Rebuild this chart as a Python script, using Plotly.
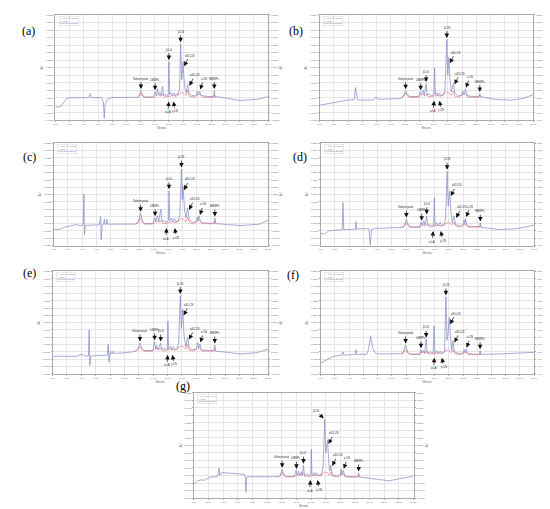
import plotly.graph_objects as go

# ---------------- data (minutes, AU) ----------------
a_blue = [(0.0,-0.0058),(0.4,-0.0064),(0.9,-0.0050),(1.5,-0.0008),(2.0,0.0000),(4.7,0.0001),(4.9,0.0028),(5.05,0.0001),
          (6.5,0.0001),(6.75,-0.0025),(6.87,-0.0136),(7.0,-0.0040),(7.3,-0.0012),(7.9,0.0002),(11.6,0.0003),
          (11.8,0.0012),(12.05,0.0048),(12.3,0.0015),(12.6,0.0005),(13.8,0.0006),(14.05,0.0040),(14.2,0.0015),
          (14.4,0.0060),(14.55,0.0020),(14.75,0.0035),(14.9,0.0015),(15.1,0.0075),(15.25,0.0015),(15.45,0.0025),
          (15.6,0.0010),(15.9,0.0020),(16.0,0.0240),(16.1,0.0020),(16.3,0.0035),(16.5,0.0015),(16.7,0.0032),
          (16.9,0.0012),(17.1,0.0025),(17.3,0.0020),(17.5,0.0060),(17.65,0.0358),(17.8,0.0120),(17.9,0.0160),
          (18.0,0.0240),(18.1,0.0150),(18.25,0.0060),(18.45,0.0035),(18.65,0.0088),(18.85,0.0030),(19.2,0.0015),
          (19.8,0.0012),(20.0,0.0045),(20.15,0.0020),(20.35,0.0042),(20.5,0.0015),(20.8,0.0012),(21.5,0.0008),
          (22.3,0.0008),(22.4,0.0048),(22.5,0.0008),(23.5,0.0002),(26.0,-0.0018),(28.5,-0.0010),(30.0,0.0008)]
b_blue = [(0.0,-0.0050),(1.9,-0.0031),(4.0,-0.0015),(4.85,-0.0012),(5.05,0.0068),(5.3,-0.0012),(5.6,-0.0016),
          (7.6,-0.0014),(7.9,0.0007),(8.2,-0.0010),(11.2,-0.0006),(11.6,0.0002),(11.85,0.0020),(12.08,0.0046),
          (12.35,0.0022),(12.7,0.0008),(13.9,0.0008),(14.15,0.0040),(14.3,0.0020),(14.5,0.0050),(14.7,0.0020),
          (14.96,0.0094),(15.1,0.0020),(15.4,0.0025),(15.7,0.0015),(16.05,0.0020),(16.15,0.0200),(16.25,0.0020),
          (16.45,0.0035),(16.6,0.0015),(16.85,0.0030),(17.0,0.0015),(17.3,0.0015),(17.6,0.0050),(17.87,0.0387),
          (18.0,0.0150),(18.15,0.0266),(18.3,0.0120),(18.5,0.0040),(18.8,0.0094),(19.0,0.0030),(19.4,0.0012),
          (19.9,0.0015),(20.1,0.0045),(20.25,0.0020),(20.5,0.0057),(20.7,0.0015),(21.2,0.0010),(22.35,0.0008),
          (22.5,0.0028),(22.65,0.0006),(24.4,-0.0009),(26.9,-0.0016),(28.5,-0.0005),(30.0,0.0020)]
c_blue = [(0.0,-0.0036),(0.7,-0.0041),(1.5,-0.0025),(2.5,-0.0012),(3.2,-0.0006),(3.8,-0.0014),(4.15,-0.0010),
          (4.25,0.0202),(4.32,-0.0075),(4.45,-0.0012),(6.4,-0.0008),(6.58,0.0048),(6.66,-0.0111),(6.8,-0.0006),
          (7.0,-0.0004),(7.1,0.0032),(7.2,-0.0004),(7.4,-0.0004),(7.45,0.0030),(7.55,-0.0004),(11.5,-0.0003),
          (11.8,0.0010),(12.17,0.0071),(12.45,0.0015),(12.8,0.0000),(13.9,0.0000),(14.15,0.0040),(14.3,0.0015),
          (14.5,0.0054),(14.7,0.0015),(15.0,0.0100),(15.15,0.0015),(15.5,0.0020),(15.8,0.0010),(16.05,0.0020),
          (16.14,0.0225),(16.25,0.0020),(16.5,0.0038),(16.65,0.0012),(16.9,0.0035),(17.1,0.0012),(17.4,0.0015),
          (17.65,0.0060),(17.88,0.0373),(18.0,0.0160),(18.1,0.0259),(18.3,0.0100),(18.5,0.0040),(18.75,0.0107),
          (18.95,0.0030),(19.4,0.0010),(19.9,0.0012),(20.1,0.0045),(20.2,0.0020),(20.35,0.0054),(20.55,0.0012),
          (21.0,0.0005),(22.4,0.0002),(22.55,0.0039),(22.7,0.0000),(26.2,-0.0013),(28.9,-0.0003),(30.0,0.0025)]
d_blue = [(0.0,-0.0071),(0.6,-0.0068),(1.2,-0.0048),(2.4,-0.0042),(3.05,-0.0042),(3.14,0.0144),(3.25,-0.0040),
          (4.9,-0.0038),(4.98,0.0013),(5.06,-0.0036),(6.8,-0.0034),(6.97,-0.0145),(7.15,-0.0040),(7.6,-0.0033),
          (11.4,-0.0026),(11.75,-0.0015),(12.05,0.0031),(12.35,-0.0010),(12.7,-0.0022),(13.9,-0.0022),(14.15,0.0010),
          (14.3,-0.0012),(14.5,0.0019),(14.65,-0.0010),(14.9,0.0053),(15.05,-0.0012),(15.3,-0.0005),(15.55,-0.0015),
          (15.88,-0.0010),(15.97,0.0177),(16.08,-0.0010),(16.35,0.0005),(16.5,-0.0015),(16.8,0.0008),(16.95,-0.0012),
          (17.3,-0.0012),(17.55,0.0030),(17.77,0.0358),(17.92,0.0120),(18.14,0.0223),(18.3,0.0080),(18.5,0.0005),
          (18.74,0.0053),(18.95,-0.0005),(19.5,-0.0015),(20.05,-0.0005),(20.15,0.0025),(20.25,0.0000),(20.35,0.0035),
          (20.55,-0.0015),(21.2,-0.0020),(22.33,-0.0020),(22.43,0.0004),(22.55,-0.0025),(25.0,-0.0040),(27.5,-0.0035),
          (30.0,-0.0010)]
e_blue = [(0.0,-0.0030),(3.4,-0.0030),(4.0,-0.0015),(4.5,-0.0028),(5.0,-0.0028),(5.1,0.0150),(5.18,-0.0093),
          (5.35,-0.0028),(6.0,-0.0025),(7.6,-0.0022),(7.75,0.0053),(7.85,-0.0071),(7.98,-0.0015),(8.07,0.0003),
          (8.15,-0.0012),(8.35,-0.0010),(8.4,0.0003),(8.5,-0.0010),(9.5,-0.0008),(11.3,0.0001),(11.8,0.0012),
          (12.17,0.0060),(12.45,0.0018),(12.8,0.0008),(13.95,0.0010),(14.2,0.0069),(14.35,0.0020),(14.5,0.0042),
          (14.7,0.0015),(15.05,0.0060),(15.2,0.0015),(15.5,0.0025),(15.9,0.0015),(15.98,0.0025),(16.05,0.0211),
          (16.15,0.0020),(16.45,0.0038),(16.6,0.0015),(16.85,0.0035),(17.0,0.0015),(17.3,0.0015),(17.55,0.0060),
          (17.78,0.0385),(17.93,0.0160),(18.1,0.0290),(18.3,0.0110),(18.55,0.0035),(18.8,0.0098),(19.0,0.0030),
          (19.5,0.0015),(20.0,0.0018),(20.2,0.0064),(20.32,0.0025),(20.5,0.0055),(20.7,0.0015),(21.2,0.0010),
          (22.45,0.0010),(22.57,0.0047),(22.7,0.0006),(26.2,-0.0014),(28.5,-0.0005),(30.0,0.0019)]
f_blue = [(0.0,-0.0076),(0.9,-0.0053),(1.8,-0.0030),(3.0,-0.0022),(3.13,0.0001),(3.25,-0.0021),(4.85,-0.0018),
          (4.96,0.0015),(5.07,-0.0017),(6.5,-0.0016),(6.75,0.0020),(7.03,0.0110),(7.3,0.0030),(7.7,-0.0010),
          (8.2,-0.0014),(11.2,-0.0012),(11.6,-0.0005),(11.94,0.0047),(12.25,-0.0005),(12.6,-0.0015),(13.9,-0.0015),
          (14.1,0.0015),(14.25,-0.0008),(14.45,0.0010),(14.6,-0.0010),(14.83,0.0087),(14.98,-0.0010),(15.3,0.0000),
          (15.8,-0.0010),(15.94,0.0177),(16.05,-0.0008),(16.35,0.0008),(16.5,-0.0012),(16.8,0.0005),(17.0,-0.0012),
          (17.4,0.0000),(17.6,0.0376),(17.75,0.0080),(17.9,0.0120),(18.06,0.0234),(18.25,0.0060),(18.4,0.0010),
          (18.6,0.0076),(18.8,0.0000),(19.5,-0.0012),(20.0,-0.0008),(20.15,0.0015),(20.3,-0.0005),(20.45,0.0019),
          (20.65,-0.0012),(21.5,-0.0016),(22.3,-0.0016),(22.4,0.0008),(22.5,-0.0017),(25.2,-0.0014),(28.0,-0.0010),
          (30.0,-0.0003)]
g_blue = [(0.0,-0.0056),(0.5,-0.0035),(1.0,-0.0029),(1.4,-0.0032),(2.0,-0.0014),(2.6,-0.0008),(3.1,-0.0010),
          (3.3,0.0010),(3.44,0.0049),(3.5,0.0000),(3.65,0.0005),(3.8,0.0021),(5.0,0.0015),(6.9,0.0007),
          (7.0,-0.0010),(7.1,-0.0112),(7.2,-0.0010),(7.4,-0.0008),(11.5,-0.0008),(11.8,0.0000),(12.05,0.0042),
          (12.3,0.0000),(12.6,-0.0006),(13.7,-0.0006),(13.95,0.0034),(14.1,0.0000),(14.3,0.0030),(14.45,0.0000),
          (14.7,0.0025),(14.8,0.0000),(14.96,0.0069),(15.1,-0.0002),(15.4,0.0010),(15.8,0.0000),(15.95,0.0010),
          (16.03,0.0174),(16.12,0.0000),(16.4,0.0020),(16.55,0.0000),(16.8,0.0018),(17.0,0.0000),(17.4,0.0000),
          (17.65,0.0060),(17.86,0.0372),(18.02,0.0150),(18.26,0.0237),(18.45,0.0060),(18.55,0.0030),(18.7,0.0069),
          (18.9,0.0005),(19.5,-0.0005),(20.0,0.0000),(20.1,0.0042),(20.22,0.0005),(20.4,0.0035),(20.6,-0.0003),
          (21.5,-0.0008),(22.4,-0.0008),(22.5,0.0017),(22.6,-0.0010),(26.65,-0.0035),(28.5,-0.0020),(30.0,-0.0004)]

a_red = [(11.5,0.0001),(11.85,0.0010),(12.05,0.0030),(12.3,0.0010),(12.6,0.0001),(13.9,0.0002),(14.2,0.0015),
         (14.5,0.0020),(14.8,0.0012),(15.1,0.0018),(15.4,0.0004),(16.2,0.0008),(16.6,0.0015),(17.0,0.0008),
         (17.5,0.0025),(17.8,0.0035),(18.1,0.0030),(18.4,0.0015),(18.65,0.0050),(18.9,0.0010),(19.6,0.0003),
         (20.1,0.0020),(20.4,0.0022),(20.8,0.0003),(22.3,0.0002),(22.45,0.0020),(22.6,0.0001)]
b_red = [(11.5,0.0002),(11.85,0.0012),(12.08,0.0030),(12.35,0.0012),(12.7,0.0003),(13.9,0.0004),(14.2,0.0018),
         (14.5,0.0022),(14.8,0.0012),(15.0,0.0025),(15.3,0.0006),(16.2,0.0010),(16.6,0.0016),(17.0,0.0010),
         (17.6,0.0028),(17.9,0.0038),(18.2,0.0032),(18.5,0.0016),(18.8,0.0045),(19.0,0.0010),(19.6,0.0004),
         (20.1,0.0022),(20.5,0.0026),(20.8,0.0004),(22.35,0.0003),(22.5,0.0018),(22.65,0.0002)]
c_red = [(11.5,-0.0004),(11.85,0.0008),(12.17,0.0035),(12.45,0.0008),(12.8,-0.0003),(13.9,-0.0002),(14.2,0.0014),
         (14.5,0.0018),(14.8,0.0010),(15.0,0.0022),(15.3,0.0002),(16.2,0.0006),(16.6,0.0014),(17.0,0.0006),
         (17.6,0.0024),(17.9,0.0034),(18.2,0.0028),(18.5,0.0012),(18.75,0.0045),(19.0,0.0006),(19.6,-0.0002),
         (20.1,0.0018),(20.4,0.0022),(20.8,0.0000),(22.4,-0.0001),(22.55,0.0020),(22.7,-0.0003)]
d_red = [(11.4,-0.0028),(11.75,-0.0018),(12.05,0.0005),(12.35,-0.0018),(12.7,-0.0026),(13.9,-0.0025),(14.2,-0.0012),
         (14.5,-0.0008),(14.8,-0.0014),(15.0,-0.0004),(15.3,-0.0022),(16.2,-0.0018),(16.6,-0.0012),(17.0,-0.0018),
         (17.55,0.0000),(17.85,0.0010),(18.15,0.0004),(18.45,-0.0012),(18.75,0.0008),(19.0,-0.0018),(19.6,-0.0024),
         (20.15,-0.0008),(20.4,-0.0004),(20.8,-0.0024),(22.33,-0.0024),(22.45,-0.0010),(22.6,-0.0027)]
e_red = [(11.4,0.0004),(11.8,0.0014),(12.17,0.0035),(12.45,0.0014),(12.8,0.0005),(13.95,0.0006),(14.2,0.0022),
         (14.5,0.0024),(14.8,0.0014),(15.05,0.0026),(15.3,0.0008),(16.2,0.0012),(16.6,0.0018),(17.0,0.0012),
         (17.55,0.0030),(17.85,0.0040),(18.15,0.0036),(18.5,0.0018),(18.8,0.0050),(19.0,0.0012),(19.6,0.0006),
         (20.2,0.0026),(20.5,0.0028),(20.8,0.0006),(22.45,0.0005),(22.57,0.0022),(22.7,0.0004)]
f_red = [(11.3,-0.0018),(11.65,-0.0008),(11.94,0.0015),(12.25,-0.0008),(12.6,-0.0018),(13.9,-0.0018),(14.1,-0.0004),
         (14.45,-0.0002),(14.7,-0.0008),(14.85,0.0006),(15.1,-0.0014),(16.1,-0.0012),(16.5,-0.0006),(16.9,-0.0012),
         (17.45,0.0004),(17.75,0.0014),(18.05,0.0008),(18.35,-0.0006),(18.6,0.0014),(18.85,-0.0012),(19.6,-0.0018),
         (20.15,-0.0004),(20.45,-0.0002),(20.75,-0.0018),(22.3,-0.0019),(22.4,-0.0006),(22.55,-0.0020)]
g_red = [(11.4,-0.0010),(11.8,0.0000),(12.05,0.0022),(12.3,0.0000),(12.6,-0.0009),(13.7,-0.0009),(14.0,0.0006),
         (14.3,0.0008),(14.6,0.0002),(14.96,0.0016),(15.2,-0.0006),(16.1,-0.0004),(16.5,0.0004),(16.9,-0.0004),
         (17.6,0.0014),(17.9,0.0024),(18.25,0.0018),(18.5,0.0002),(18.7,0.0025),(18.95,-0.0004),(19.6,-0.0009),
         (20.1,0.0010),(20.4,0.0012),(20.7,-0.0009),(22.4,-0.0010),(22.5,0.0004),(22.65,-0.0011)]

panel_names = ["(a)", "(b)", "(c)", "(d)", "(e)", "(f)", "(g)"]
peak_labels = ["Solvent peak", "LMWPs", "β-LG", "β-CN", "αS1-CN", "αS2-CN", "κ-CN", "HMWPs", "α-LA", "γ-CN"]
# tip positions (minutes, AU) of each label's arrow, per panel, in peak_labels order
a_tips = [(12.05,0.0048),(14.05,0.0040),(16.0,0.0240),(17.65,0.0358),(18.05,0.0200),(18.8,0.0070),(20.35,0.0045),(22.4,0.0048),(16.0,-0.0015),(16.6,-0.0015)]
b_tips = [(12.08,0.0046),(14.2,0.0040),(14.96,0.0094),(17.87,0.0387),(18.2,0.0220),(18.85,0.0080),(20.5,0.0057),(22.5,0.0028),(16.1,-0.0010),(16.8,-0.0010)]
c_tips = [(12.17,0.0071),(14.2,0.0040),(16.14,0.0225),(17.88,0.0373),(18.15,0.0220),(18.85,0.0085),(20.4,0.0050),(22.55,0.0039),(15.83,-0.0020),(16.9,-0.0020)]
d_tips = [(12.05,0.0031),(14.2,0.0010),(14.9,0.0053),(17.77,0.0358),(18.2,0.0180),(18.95,0.0030),(20.4,0.0035),(22.43,0.0004),(15.83,-0.0040),(16.85,-0.0040)]
e_tips = [(12.17,0.0060),(14.2,0.0069),(15.05,0.0060),(17.78,0.0385),(18.15,0.0240),(18.9,0.0075),(20.5,0.0055),(22.57,0.0047),(16.05,-0.0010),(16.64,-0.0010)]
f_tips = [(11.94,0.0047),(14.1,0.0015),(14.83,0.0087),(17.6,0.0376),(18.1,0.0180),(18.7,0.0055),(20.45,0.0019),(22.4,0.0008),(16.0,-0.0030),(17.0,-0.0030)]
g_tips = [(12.05,0.0042),(14.0,0.0034),(14.96,0.0069),(17.86,0.0372),(18.3,0.0200),(18.8,0.0055),(20.4,0.0035),(22.5,0.0017),(15.94,-0.0020),(16.84,-0.0020)]

x_ticks = [0, 2, 4, 6, 8, 10, 12, 14, 16, 18, 20, 22, 24, 26, 28, 30]
y_ticks = [-0.015, -0.010, -0.005, 0.000, 0.005, 0.010, 0.015, 0.020, 0.025, 0.030, 0.035, 0.040, 0.045, 0.050, 0.055]

blues = [a_blue, b_blue, c_blue, d_blue, e_blue, f_blue, g_blue]
reds = [a_red, b_red, c_red, d_red, e_red, f_red, g_red]
tips = [a_tips, b_tips, c_tips, d_tips, e_tips, f_tips, g_tips]

# ---------------- layout geometry (pixels) ----------------
W, H = 550, 509
frames = [(46, 261, 6, 112), (313, 529, 6, 112),
          (44, 261, 135, 238), (314, 530, 135, 238),
          (43, 261, 264, 367), (314, 530, 264, 367),
          (186, 408, 386, 492)]
label_pos = [(10, 13), (289, 13), (11, 140), (293, 140), (11, 266), (286, 268), (166, 388)]
# arrow offsets (px) per label: (ax, ay)
offsets = [(0, -12), (0, -12), (0, -12), (0, -12), (6, -12), (6, -12), (4, -12), (0, -12), (-1, 12), (2, 11)]

BLUE = "#7f88c4"
RED = "#e5667a"
GRID = "#e6e6e6"
FRAME = "#aaaaaa"
TICKF = dict(size=2.4, color="#666666", family="Liberation Sans")
TITLEF = dict(size=2.6, color="#666666", family="Liberation Sans")

fig = go.Figure()
layout = dict(width=W, height=H, margin=dict(l=0, r=0, t=0, b=0),
              paper_bgcolor="white", plot_bgcolor="white", showlegend=False)
annotations = []

for i in range(7):
    n = "" if i == 0 else str(i + 1)
    x0, x1, y0, y1 = frames[i]
    xd = [x0 / W, x1 / W]
    yd = [1 - y1 / H, 1 - y0 / H]
    layout["xaxis" + n] = dict(domain=xd, anchor="y" + n, range=[0, 30], tickvals=x_ticks,
                               tickformat=".2f", tickfont=TICKF, showgrid=True, gridcolor=GRID, gridwidth=0.5,
                               showline=True, linecolor=FRAME, linewidth=0.7, mirror=True,
                               ticks="outside", ticklen=1, tickcolor=FRAME, zeroline=False,
                               title=dict(text="Minutes", font=TITLEF, standoff=0))
    layout["yaxis" + n] = dict(domain=yd, anchor="x" + n, range=[-0.015, 0.055], tickvals=y_ticks,
                               tickformat=".4f", tickfont=TICKF, showgrid=True, gridcolor=GRID, gridwidth=0.5,
                               showline=True, linecolor=FRAME, linewidth=0.7, mirror=True,
                               ticks="outside", ticklen=1, tickcolor=FRAME, zeroline=False,
                               title=dict(text="AU", font=TITLEF, standoff=1))
    rn = str(i + 8)
    layout["yaxis" + rn] = dict(overlaying="y" + n, anchor="x" + n, side="right", range=[-0.015, 0.055],
                                tickvals=y_ticks, tickformat=".4f", tickfont=TICKF, showgrid=False,
                                ticks="outside", ticklen=1, tickcolor=FRAME, zeroline=False, showline=False,
                                title=dict(text="AU", font=TITLEF, standoff=1))
    bt = [p[0] for p in blues[i]]
    bv = [p[1] for p in blues[i]]
    rt = [p[0] for p in reds[i]]
    rv = [p[1] for p in reds[i]]
    fig.add_trace(go.Scatter(x=bt, y=bv, mode="lines", line=dict(color=BLUE, width=0.7),
                             xaxis="x" + n, yaxis="y" + n, hoverinfo="skip"))
    fig.add_trace(go.Scatter(x=rt, y=rv, mode="lines", line=dict(color=RED, width=0.6),
                             xaxis="x" + n, yaxis="y" + n, hoverinfo="skip"))
    fig.add_trace(go.Scatter(x=[0], y=[0], mode="markers", marker=dict(opacity=0),
                             xaxis="x" + n, yaxis="y" + rn, hoverinfo="skip"))
    # legend box inside plot
    annotations.append(dict(xref="x" + n + " domain", yref="y" + n + " domain", x=0.015, y=0.99,
                            xanchor="left", yanchor="top", showarrow=False, align="left",
                            text="— 2998 Ch1 280nm<br>— Fitted<br><span style='color:#6f78c0'>Integration 280 nm</span>",
                            font=dict(size=2, color="#888888"), bordercolor="#cccccc", borderwidth=0.4, borderpad=0.5))
    # panel letter
    lx, ly = label_pos[i]
    annotations.append(dict(xref="paper", yref="paper", x=lx / W, y=1 - ly / H, showarrow=False,
                            text=panel_names[i], font=dict(family="Liberation Serif", size=12, color="black")))
    # peak labels
    for k, name in enumerate(peak_labels):
        t, v = tips[i][k]
        ax, ay = offsets[k]
        if i == 6 and name == "β-CN":
            ax, ay = -9, -9
        annotations.append(dict(x=t, y=v, xref="x" + n, yref="y" + n, text=name, showarrow=True,
                                ax=ax, ay=ay, arrowhead=2, arrowsize=1.3, arrowwidth=0.7,
                                arrowcolor="#111111", standoff=1.5,
                                font=dict(size=2.6, color="#222222", family="Liberation Sans")))

layout["annotations"] = annotations
fig.update_layout(**layout)
fig.write_html("out.html")
